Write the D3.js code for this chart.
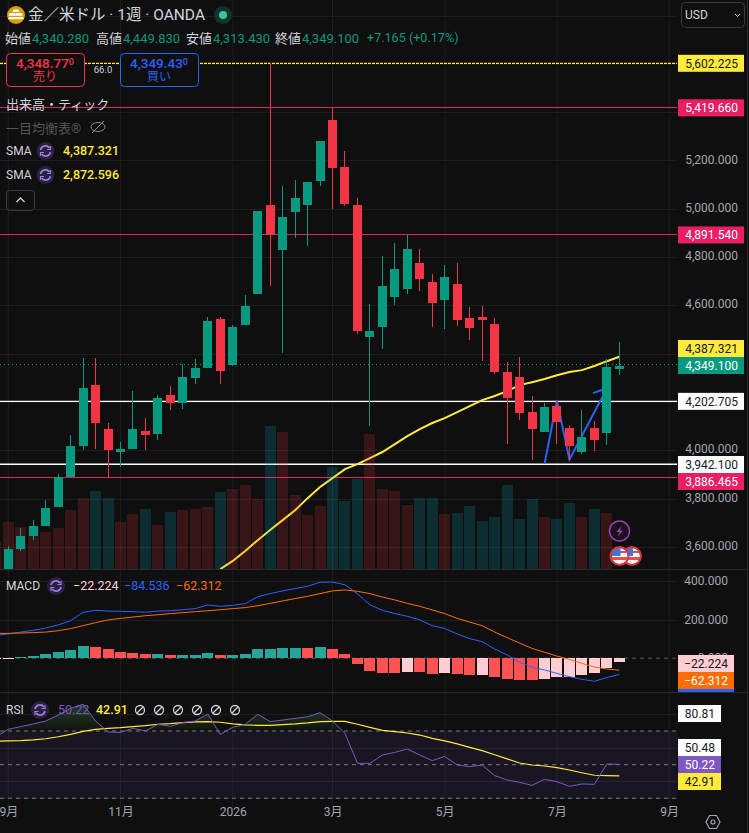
<!DOCTYPE html>
<html lang="ja">
<head>
<meta charset="utf-8">
<title>XAUUSD</title>
<script src="https://cdnjs.cloudflare.com/ajax/libs/d3/7.8.5/d3.min.js"></script>
<style>
	html, body { margin: 0; padding: 0; background: #0f0f0f; }
	svg { display: block; font-family: Roboto, "Noto Sans CJK JP", sans-serif; }
	.domain { display: none; }
</style>
</head>
<body>
<div id="chart"></div>
<script>
// weekly candles, first visible week is index 0
var opens  = [3508,3591,3645,3686,3765,3889,4017,4270,4088,3993,4005,4080,4067,4229,4196,4299,4340,4543,4353,4519,4647,5015,4829,4986,5015,5115,5367,5173,5015,4469,4510,4634,4668,4775,4697,4622,4688,4548,4552,4523,4324,4303,4158,4075,4183,4092,3993,4092,4071,4340.28];
var highs  = [3603,3678,3711,3794,3902,4063,4382,4382,4113,4034,4245,4133,4229,4266,4357,4378,4552,4552,4519,4643,4991,5602,5094,5119,5111,5280,5420,5239,5044,4605,4804,4858,4891,4833,4730,4767,4775,4593,4597,4548,4365,4386,4225,4196,4208,4104,4166,4121,4378,4449.83];
var lows   = [3508,3584,3628,3686,3765,3885,4001,4005,3885,3930,4005,4001,4042,4167,4171,4274,4340,4274,4349,4519,4647,4680,4404,4879,4846,5094,4999,5011,4481,4100,4419,4601,4647,4659,4510,4502,4514,4456,4369,4316,4026,4125,3959,4075,4026,3959,3984,3997,4022,4313.43];
var closes = [3591,3645,3686,3761,3889,4017,4258,4113,4001,4005,4088,4063,4216,4196,4303,4340,4535,4328,4510,4597,4991,4891,4966,5044,5111,5280,5169,5020,4494,4494,4680,4750,4833,4709,4610,4717,4539,4506,4539,4324,4216,4154,4088,4179,4117,4017,4055,4042,4345,4349.10];

// volume (thousand ticks) starts one week left of the frame
var volumes = [27,47,42,42,37,41,59,71,78,71,47,55,60,44,57,59,60,62,77,80,84,70,143,137,74,54,63,102,68,90,135,80,78,64,71,71,55,56,63,48,52,84,50,70,52,50,66,52,60,56];
var volumeSide = ["d","d","d","d","d","d","d","d","u","u","d","d","u","d","u","d","d","d","u","d","d","d","u","d","d","d","d","u","u","u","d","d","d","d","u","u","d","u","u","u","u","u","u","u","d","u","u","d","u","d"];

// long SMA enters the pane at week 17
var smaLong = [3508,3542,3583,3628,3670,3711,3752,3802,3848,3885,3922,3943,3968,3993,4026,4059,4088,4113,4133,4158,4183,4208,4225,4245,4270,4282,4295,4311,4324,4332,4349,4369,4387.3];
var zigzagA = [[43,3944],[44,4205],[45,3962],[47.7,4227]];
var zigzagB = [[46.9,4237],[47.7,4252]];

var priceTicks = [5800,5600,5400,5200,5000,4800,4600,4400,4200,4000,3800,3600];
var priceLabelTicks = [5200,5000,4800,4600,4000,3800,3600];
var levelWhite = [4202.705,3942.1];
var levelPink = [5419.66,4891.54,3886.465];
var levelYellow = 5602.225;
var lastClose = 4349.1;
var lastSma = 4387.321;

// MACD and RSI series start one week left of the frame
var macdLine = [119,126,136,145,157,173,195,239,249,245,244,242,239,245,247,252,258,277,270,275,284,320,336,350,362,374,395,396,382,334,278,249,232,218,199,169,155,126,102,86,48,17,-21,-47,-61,-79,-96,-110,-120,-101,-84.5];
var macdSignal = [129,129,131,133,136,143,154,169,185,199,207,214,221,226,232,237,242,247,252,258,263,273,285,298,310,322,336,350,355,348,336,318,303,285,270,251,232,207,188,169,136,107,79,51,31,11,-6,-27,-46,-56,-62.3];
var macdHist = [-6,-6,7,12,22,33,43,64,59,48,33,28,22,22,17,17,17,28,17,17,22,48,48,54,54,54,59,48,22,-29,-66,-76,-76,-71,-71,-81,-76,-81,-87,-87,-97,-107,-113,-113,-107,-97,-97,-87,-76,-52,-22.2];
var histState = ["f","f","u","u","u","u","u","u","d","d","d","d","d","u","d","u","u","u","d","u","u","u","u","u","u","d","u","d","d","d","d","d","d","f","d","d","f","d","d","f","d","d","d","d","f","f","f","f","f","f","f"];
var macdTicks = [400,200,0];

var rsiLine = [66.6,71,72.6,74.2,75.9,79.5,83.5,85.9,75.9,69.4,69.2,71.6,70,74,72.8,75,75.9,80.1,68,72.2,74,79.9,75.6,76.5,77.5,78.5,80.9,75.9,68.6,50.8,50.8,55.7,57.3,59.3,55.7,52.4,54.9,49.8,48.8,49.8,43.5,40.9,39.5,37.7,41.3,39.9,37.1,38.5,38.3,50.4,50.2];
var rsiSma = [63.9,64.1,64.3,64.7,65.4,66.6,68,69.8,71,71.6,72,72.6,73.2,74,74.4,75,75.4,75.6,75.2,74.2,73.6,73.4,73.4,73.8,74.2,74.8,75.6,75.7,75.7,74,72.2,70.4,69.6,68.8,67.6,65.6,64.1,62.3,60.3,58.3,55.9,53.4,51,49.8,49.2,48.2,46.8,45.2,43.7,43.5,43.3];
var rsiGrid = [80,60,40];
var rsiBands = [70,50,30];

var timeTicks = [0,9,18,26,35,44,53];
var timeLabels = ["9月","11月","2026","3月","5月","7月","9月"];

var W = 749, H = 833;
var plotR = 677;
var col = {bg:"#0f0f0f", grid:"#1e1e1e", sep:"#2a2a2a", up:"#089981", down:"#f23645", text:"#d1d4dc", tick:"#a3a6af",
	pink:"#e91e63", yellow:"#ffeb3b", blue:"#2962ff", orange:"#ff6d00", purple:"#7e57c2"};

var x = d3.scaleLinear().domain([0,53]).range([8.3,669.2]);
var y = d3.scaleLinear().domain([5602.225,3942.1]).range([63.3,464.3]);
var yVol = d3.scaleLinear().domain([0,100]).range([569,469]);
var yMacd = d3.scaleLinear().domain([0,400]).range([658.2,581.3]);
var yRsi = d3.scaleLinear().domain([70,30]).range([731,798.3]);

var svg = d3.select("#chart").append("svg").attr("width",W).attr("height",H);
svg.append("rect").attr("width",W).attr("height",H).attr("fill",col.bg);

var defs = svg.append("defs");
defs.append("clipPath").attr("id","mainClip").append("rect").attr("width",plotR).attr("height",569);
defs.append("clipPath").attr("id","obClip").append("rect").attr("width",plotR).attr("y",690).attr("height",yRsi(70)-690);
var grad = defs.append("linearGradient").attr("id","obFill").attr("gradientUnits","userSpaceOnUse")
	.attr("x1",0).attr("x2",0).attr("y1",yRsi(86)).attr("y2",yRsi(70));
grad.append("stop").attr("offset",0).attr("stop-color","#4caf50").attr("stop-opacity",.3);
grad.append("stop").attr("offset",1).attr("stop-color","#4caf50").attr("stop-opacity",.03);
defs.append("clipPath").attr("id","flagClip1").append("circle").attr("cx",619.5).attr("cy",556).attr("r",8);
defs.append("clipPath").attr("id","flagClip2").append("circle").attr("cx",632).attr("cy",556).attr("r",8);

function hline(g, yy, color, w, dash) {
	g.append("line").attr("x1",0).attr("x2",plotR).attr("y1",yy).attr("y2",yy)
		.attr("stroke",color).attr("stroke-width",w).attr("stroke-dasharray",dash||null);
}

// grid
var grid = svg.append("g");
timeTicks.forEach(function(t) {
	grid.append("line").attr("x1",x(t)).attr("x2",x(t)).attr("y1",0).attr("y2",808).attr("stroke",col.grid);
});
priceTicks.forEach(function(p) { hline(grid, Math.round(y(p))+.5, col.grid, 1); });
macdTicks.slice(0,2).forEach(function(p) { hline(grid, Math.round(yMacd(p))+.5, col.grid, 1); });
hline(grid, Math.round(yRsi(80))+.5, col.grid, 1);

var main = svg.append("g").attr("clip-path","url(#mainClip)");

// level lines
hline(main, Math.floor(y(lastClose))-.5, col.up, 1, "1 3");
levelPink.forEach(function(p){ hline(main, Math.floor(y(p))+.5, col.pink, 1); });
levelWhite.forEach(function(p){ hline(main, y(p), "#ffffff", 1.4); });
hline(main, y(levelYellow), col.yellow, 1.2, "3 1");

// long SMA goes under the volume and the candles
var smaPath = d3.line().x(function(d,i){ return x(i+17); }).y(function(d){ return y(d); });
main.append("path").attr("d",smaPath(smaLong)).attr("fill","none").attr("stroke",col.yellow).attr("stroke-width",2);

// drawing
var zig = d3.line().x(function(d){ return x(d[0]); }).y(function(d){ return y(d[1]); });
[zigzagA,zigzagB].forEach(function(z){
	main.append("path").attr("d",zig(z)).attr("fill","none").attr("stroke",col.blue).attr("stroke-width",2);
});

// volume, see-through so the lines below tint it
main.append("g").attr("shape-rendering","crispEdges").selectAll("rect").data(volumes).enter().append("rect")
	.attr("x",function(d,i){ return Math.round(x(i-1)-5.5); })
	.attr("width",11)
	.attr("y",function(d){ return yVol(d); })
	.attr("height",function(d){ return yVol(0)-yVol(d); })
	.attr("fill",function(d,i){ return volumeSide[i]=="u" ? "#00bcd4" : "#f23645"; })
	.attr("fill-opacity",.18);

// candles
var candles = main.append("g").attr("shape-rendering","crispEdges").selectAll("g").data(closes).enter().append("g")
	.attr("fill",function(d,i){ return d>=opens[i] ? col.up : col.down; });
candles.append("rect")
	.attr("x",function(d,i){ return Math.round(x(i)-.5); }).attr("width",1)
	.attr("y",function(d,i){ return y(highs[i]); })
	.attr("height",function(d,i){ return y(lows[i])-y(highs[i]); });
candles.append("rect")
	.attr("x",function(d,i){ return Math.round(x(i)-4.5); }).attr("width",9)
	.attr("y",function(d,i){ return y(Math.max(d,opens[i])); })
	.attr("height",function(d,i){ return Math.max(3,Math.abs(y(d)-y(opens[i]))); });

// pane separators
[569.5,692.5].forEach(function(v){
	svg.append("line").attr("x1",0).attr("x2",747).attr("y1",v).attr("y2",v).attr("stroke",col.sep);
});
svg.append("line").attr("x1",747.5).attr("x2",747.5).attr("y1",0).attr("y2",H).attr("stroke",col.sep);

// MACD pane
var byIndex = function(yScale) {
	return d3.line().x(function(d,i){ return x(i-1); }).y(function(d){ return yScale(d); });
};
hline(svg, yMacd(0), "#5a5a5a", 1, "4 4");
var histColor = d3.scaleOrdinal().domain(["u","d","f"]).range(["#26a69a","#ff5252","#ffcdd2"]);
svg.append("g").attr("shape-rendering","crispEdges").selectAll("rect").data(macdHist).enter().append("rect")
	.attr("x",function(d,i){ return Math.round(x(i-1)-5.5); }).attr("width",11)
	.attr("y",function(d){ return Math.min(yMacd(d),yMacd(0)); })
	.attr("height",function(d){ return Math.abs(yMacd(d)-yMacd(0)); })
	.attr("fill",function(d,i){ return histColor(histState[i]); });
svg.append("path").attr("d",byIndex(yMacd)(macdLine)).attr("fill","none").attr("stroke",col.blue).attr("stroke-width",1);
svg.append("path").attr("d",byIndex(yMacd)(macdSignal)).attr("fill","none").attr("stroke",col.orange).attr("stroke-width",1);

// RSI pane
svg.append("rect").attr("x",0).attr("width",plotR).attr("y",yRsi(70)).attr("height",yRsi(30)-yRsi(70))
	.attr("fill",col.purple).attr("fill-opacity",.1);
rsiGrid.forEach(function(p){ hline(svg, Math.round(yRsi(p))+.5, "#262332", 1); });
hline(svg, Math.round(yRsi(80))+.5, col.grid, 1);
rsiBands.forEach(function(p){ hline(svg, yRsi(p), "#787b86", 1, "4 4"); });
var rsiArea = d3.area().x(function(d,i){ return x(i-1); }).y0(yRsi(70)).y1(function(d){ return yRsi(d); });
svg.append("path").attr("d",rsiArea(rsiLine)).attr("fill","url(#obFill)").attr("clip-path","url(#obClip)");
svg.append("path").attr("d",byIndex(yRsi)(rsiSma)).attr("fill","none").attr("stroke",col.yellow).attr("stroke-width",1.2);
svg.append("path").attr("d",byIndex(yRsi)(rsiLine)).attr("fill","none").attr("stroke",col.purple).attr("stroke-width",1);

// axes
function styleAxis(g, anchor) {
	g.selectAll("text").attr("x",anchor?0:null).attr("dy",anchor?"0.3em":null).attr("text-anchor",anchor||"middle")
		.attr("fill",col.tick).style("font-size","12px").style("font-family",'Roboto, "Noto Sans CJK JP", sans-serif');
}
var priceAxis = svg.append("g").attr("transform","translate(738,-1)")
	.call(d3.axisRight(y).tickValues(priceLabelTicks).tickSize(0).tickFormat(d3.format(",.3f")));
styleAxis(priceAxis,"end");
var macdAxis = svg.append("g").attr("transform","translate(728,0)")
	.call(d3.axisRight(yMacd).tickValues(macdTicks).tickSize(0).tickFormat(d3.format(".3f")));
styleAxis(macdAxis,"end");
var timeAxis = svg.append("g").attr("transform","translate(0,813)")
	.call(d3.axisBottom(x).tickValues(timeTicks).tickSize(0).tickFormat(function(d,i){ return timeLabels[i]; }));
styleAxis(timeAxis);

// text helper
function txt(px, py, s, color, size, anchor, weight) {
	return svg.append("text").attr("x",px).attr("y",py).attr("dy","0.35em").text(s)
		.attr("fill",color).attr("font-size",size).attr("text-anchor",anchor||"start").attr("font-weight",weight||null);
}

// scale tags
function tag(x0, x1, cy, bg, fg, s) {
	svg.append("rect").attr("x",x0).attr("width",x1-x0).attr("y",cy-8.5).attr("height",17).attr("fill",bg);
	txt(x1-6, cy, s, fg, 12, "end");
}
var fmt3 = d3.format(",.3f");
tag(678,744,y(levelYellow),col.yellow,"#131722",fmt3(levelYellow));
tag(678,744,y(levelPink[0])+.4,col.pink,"#ffffff",fmt3(levelPink[0]));
tag(678,744,y(levelPink[1]),col.pink,"#ffffff",fmt3(levelPink[1]));
tag(678,744,348.5,col.yellow,"#131722",fmt3(lastSma));
tag(678,744,365.5,col.up,"#ffffff",fmt3(lastClose));
tag(678,744,y(levelWhite[0]),"#ffffff","#131722",fmt3(levelWhite[0]));
tag(678,744,464.5,"#ffffff","#131722",fmt3(levelWhite[1]));
tag(678,744,481.5,col.pink,"#ffffff",fmt3(levelPink[2]));
tag(678,734,663.5,"#ffcdd2","#131722","−22.224");
tag(678,734,680.5,col.orange,"#ffffff","−62.312");
svg.append("rect").attr("x",678).attr("width",56).attr("y",689).attr("height",3).attr("fill",col.blue);
tag(678,721,713.5,"#ffffff","#131722","80.81");
tag(678,721,747.5,"#ffffff","#131722","50.48");
tag(678,721,764.5,col.purple,"#ffffff","50.22");
tag(678,721,781.5,col.yellow,"#131722","42.91");

// header
svg.append("circle").attr("cx",16).attr("cy",15).attr("r",9).attr("fill","#dc9a05");
svg.append("path").attr("d","M13.5 9.5h5l1 2.6h-7zM9.5 13h5.6l1 2.8H8.5zM16.4 13h5.4l1 2.8h-7.4zM9 17h14l.8 2.2H8.2z").attr("fill","#fff");
txt(28,15,"金／米ドル · 1週 · OANDA",col.text,15.5);
svg.append("circle").attr("cx",223).attr("cy",15).attr("r",9).attr("fill","#0f3330");
svg.append("circle").attr("cx",223).attr("cy",15).attr("r",4).attr("fill","#3dc4a5");

var ohlcNames = ["始値","高値","安値","終値"];
var ohlcValues = [4340.28,4449.83,4313.43,4349.1];
var ohlcX = [5,96,186,275];
ohlcNames.forEach(function(n,i){
	txt(ohlcX[i],38,n,col.text,13);
	txt(ohlcX[i]+27,38,fmt3(ohlcValues[i]),col.up,13);
});
txt(367,38,"+7.165 (+0.17%)",col.up,12.6);

// sell / buy
function tradeBox(x0, color, value, sub, label) {
	svg.append("rect").attr("x",x0+.5).attr("y",53.5).attr("width",78).attr("height",33).attr("rx",4)
		.attr("fill","#0f0f0f").attr("stroke",color);
	var t = txt(x0+39,63,value,color,13.5,"middle",500);
	t.append("tspan").attr("font-size",9).attr("dy","-0.25em").text(sub);
	txt(x0+39,77,label,color,12,"middle");
}
tradeBox(6,col.down,"4,348.77","0","売り");
tradeBox(120,col.blue,"4,349.43","0","買い");
svg.append("rect").attr("x",90).attr("y",64).attr("width",26).attr("height",12).attr("fill",col.bg);
txt(103,70,"66.0",col.text,9.5,"middle");

txt(6,104,"出来高・ティック",col.text,13);
txt(6,128,"一目均衡表®","#555555",13);
// eye off
svg.append("ellipse").attr("cx",98).attr("cy",127).attr("rx",7).attr("ry",4.5).attr("fill","none").attr("stroke","#8a8a8a");
svg.append("line").attr("x1",92).attr("y1",133).attr("x2",104).attr("y2",121).attr("stroke","#8a8a8a");

function syncIcon(cx, cy) {
	svg.append("circle").attr("cx",cx).attr("cy",cy).attr("r",9).attr("fill","#2a2140");
	var g = svg.append("g").attr("transform","translate("+cx+","+cy+")").attr("fill","none").attr("stroke","#a07fe0").attr("stroke-width",1.6);
	g.append("path").attr("d","M-5 -1A5 5 0 0 1 4 -3");
	g.append("path").attr("d","M5 1A5 5 0 0 1 -4 3");
	g.append("path").attr("d","M5 -5V-1.5H1.5M-5 5V1.5H-1.5").attr("stroke-width",1.2);
}
txt(6,151,"SMA",col.text,12);
syncIcon(45.5,151);
txt(63,151,fmt3(lastSma),col.yellow,12.5,"start",500);
txt(6,175,"SMA",col.text,12);
syncIcon(45.5,175);
txt(63,175,"2,872.596",col.yellow,12.5,"start",500);
svg.append("rect").attr("x",6.5).attr("y",190.5).attr("width",28).attr("height",20).attr("rx",3).attr("fill","none").attr("stroke","#3a3a3a");
svg.append("path").attr("d","M16.5 202l4-4 4 4").attr("fill","none").attr("stroke",col.text).attr("stroke-width",1.3);

// currency box
svg.append("rect").attr("x",681.5).attr("y",2.5).attr("width",63).attr("height",25).attr("rx",4).attr("fill",col.bg).attr("stroke","#3a3a3a");
txt(685,15,"USD",col.text,12);
svg.append("path").attr("d","M735 14l2.5 2.5 2.5-2.5").attr("fill","none").attr("stroke",col.text);

// pane legends
txt(6,586,"MACD",col.text,12);
syncIcon(56,586);
txt(73,586,"−22.224","#ffcdd2",12.5);
txt(124,586,"−84.536",col.blue,12.5);
txt(176,586,"−62.312",col.orange,12.5);
txt(6,710,"RSI",col.text,12);
syncIcon(40,710);
txt(58,710,"50.22",col.purple,12.5);
txt(96,710,"42.91",col.yellow,12.5,"start",500);
d3.range(6).forEach(function(i){
	var cx = 140+i*19;
	svg.append("circle").attr("cx",cx).attr("cy",710).attr("r",4.5).attr("fill","none").attr("stroke",col.text).attr("stroke-width",1.3);
	svg.append("line").attr("x1",cx-3).attr("y1",713).attr("x2",cx+3).attr("y2",707).attr("stroke",col.text).attr("stroke-width",1.3);
});

// event markers
svg.append("circle").attr("cx",619.5).attr("cy",531).attr("r",10).attr("fill","#1a101e").attr("stroke","#9c3fb0").attr("stroke-width",1.5);
svg.append("path").attr("d","M621.5 526l-5 6h3l-1.5 4.5 5-6h-3z").attr("fill","#9c3fb0");
[[632,"flagClip2"],[619.5,"flagClip1"]].forEach(function(f){
	var g = svg.append("g");
	var inner = g.append("g").attr("clip-path","url(#"+f[1]+")");
	inner.append("rect").attr("x",f[0]-8).attr("y",548).attr("width",16).attr("height",16).attr("fill","#f4f4f4");
	inner.append("rect").attr("x",f[0]-8).attr("y",557).attr("width",16).attr("height",3).attr("fill","#e25050");
	inner.append("rect").attr("x",f[0]-8).attr("y",551).attr("width",16).attr("height",2).attr("fill","#e25050");
	inner.append("rect").attr("x",f[0]-8).attr("y",548).attr("width",9).attr("height",8).attr("fill","#3f74d9");
	g.append("circle").attr("cx",f[0]).attr("cy",556).attr("r",9).attr("fill","none").attr("stroke","#e0343f").attr("stroke-width",1.8);
});

// settings hexagon
svg.append("path").attr("d","M706 822l3.5-6.5h7l3.5 6.5-3.5 6.5h-7z").attr("fill","none").attr("stroke",col.tick).attr("stroke-width",1.2);
svg.append("circle").attr("cx",713).attr("cy",822).attr("r",2).attr("fill","none").attr("stroke",col.tick).attr("stroke-width",1.2);
</script>
</body>
</html>
